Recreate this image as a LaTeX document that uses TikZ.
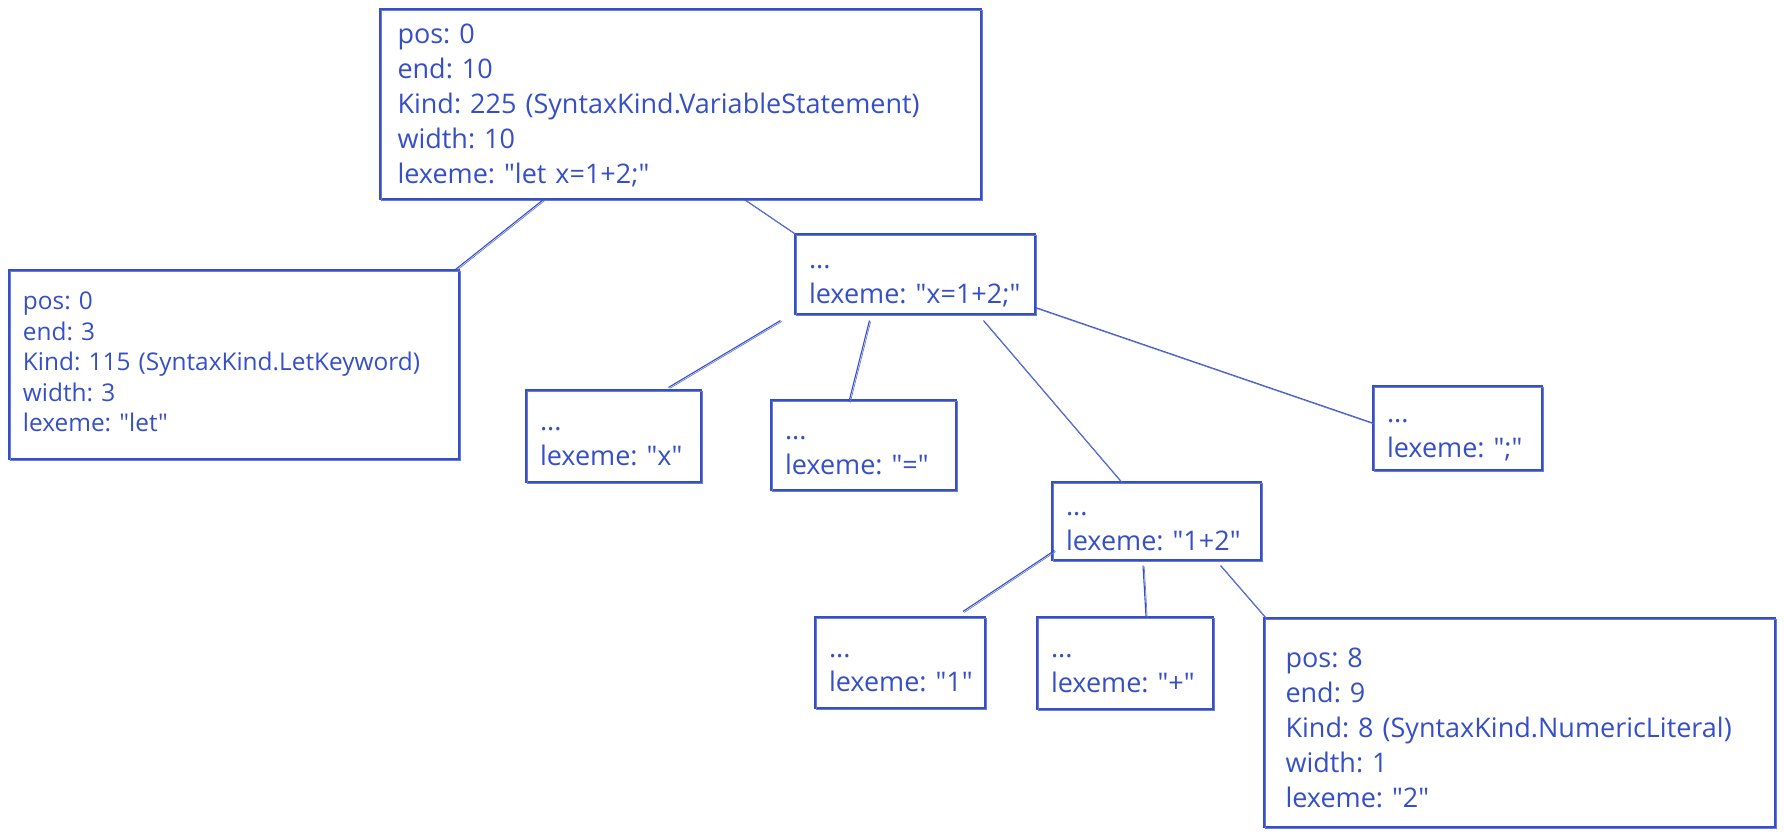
\documentclass[tikz,border=0pt]{standalone}
\usepackage{fontspec}
\newfontfamily\handfont{Open Sans}
\usepackage{tikz}
\usetikzlibrary{calc}
\definecolor{ink}{RGB}{54,79,199}
\newcommand{\fields}[2][2.5pt]{\raisebox{-#1}[\height][\depth]{\begin{tabular}{@{}l@{}}#2\end{tabular}}}

\begin{document}
\frenchspacing
\begin{tikzpicture}[x=0.5pt,y=-0.5pt,font=\handfont\fontsize{13.5}{17.5}\selectfont,text=ink,
  sk/.style={draw=ink,line width=0.55pt,postaction={draw=ink!75,line width=0.35pt,transform canvas={shift={(0.6pt,-0.5pt)}}}},
  box/.style={sk,align=left,inner sep=0pt,anchor=center}]
  \useasboundingbox (0,0) rectangle (1784,839);
  \node[box,minimum width=300.5pt,minimum height=95pt,text width=283pt] (root) at (680.5,104)
    {\fields[1.5pt]{pos: 0\\end: 10\\Kind: 225 (SyntaxKind.VariableStatement)\\width: 10\\lexeme: "let x=1+2;"}};
  \node[box,minimum width=225pt,minimum height=94.5pt,text width=211pt,font=\handfont\fontsize{12.2}{15.3}\selectfont] (let) at (234,364.5)
    {\fields[0pt]{pos: 0\\end: 3\\Kind: 115 (SyntaxKind.LetKeyword)\\width: 3\\lexeme: "let"}};
  \node[box,minimum width=120pt,minimum height=40pt,text width=106pt] (mid) at (915,274)
    {\fields{...\\lexeme: "x=1+2;"}};
  \node[box,minimum width=87.5pt,minimum height=46pt,text width=73.5pt] (x) at (613.5,436)
    {\fields{...\\lexeme: "x"}};
  \node[box,minimum width=92.5pt,minimum height=45pt,text width=78.5pt] (eq) at (863.5,445)
    {\fields{...\\lexeme: "="}};
  \node[box,minimum width=84.5pt,minimum height=42pt,text width=70.5pt] (semi) at (1457.5,428)
    {\fields{...\\lexeme: ";"}};
  \node[box,minimum width=104.5pt,minimum height=39pt,text width=90.5pt] (sum) at (1156.5,521)
    {\fields{...\\lexeme: "1+2"}};
  \node[box,minimum width=85pt,minimum height=45.5pt,text width=71pt] (one) at (900,662.5)
    {\fields{...\\lexeme: "1"}};
  \node[box,minimum width=88pt,minimum height=46pt,text width=74pt] (plus) at (1125,663)
    {\fields{...\\lexeme: "+"}};
  \node[box,minimum width=255.5pt,minimum height=104.5pt,text width=234pt] (two) at (1519.5,722.5)
    {\fields[4pt]{pos: 8\\end: 9\\Kind: 8 (SyntaxKind.NumericLiteral)\\width: 1\\lexeme: "2"}};
  \draw[sk] ($(root.south west)+(164,0)$)--($(let.north east)+(-4,0)$);
  \draw[sk] ($(root.south west)+(365,0)$)--(mid.north west);
  \draw[sk] ($(mid.south west)+(-14,6)$)--($(x.north)+(55,-2)$);
  \draw[sk] ($(mid.south west)+(75,6)$)--($(eq.north)+(-14.5,2)$);
  \draw[sk] ($(mid.south west)+(189,6)$)--($(sum.north)+(-35.5,0)$);
  \draw[sk] ($(mid.south east)+(0,-7)$)--($(semi.west)+(0,-5)$);
  \draw[sk] ($(sum.south west)+(3,-10)$)--($(one.north)+(63,-5)$);
  \draw[sk] ($(sum.south)+(-13.5,5)$)--($(plus.north)+(21,0)$);
  \draw[sk] ($(sum.south east)+(-41,5)$)--($(two.north west)+(2,0)$);
\end{tikzpicture}
\end{document}
